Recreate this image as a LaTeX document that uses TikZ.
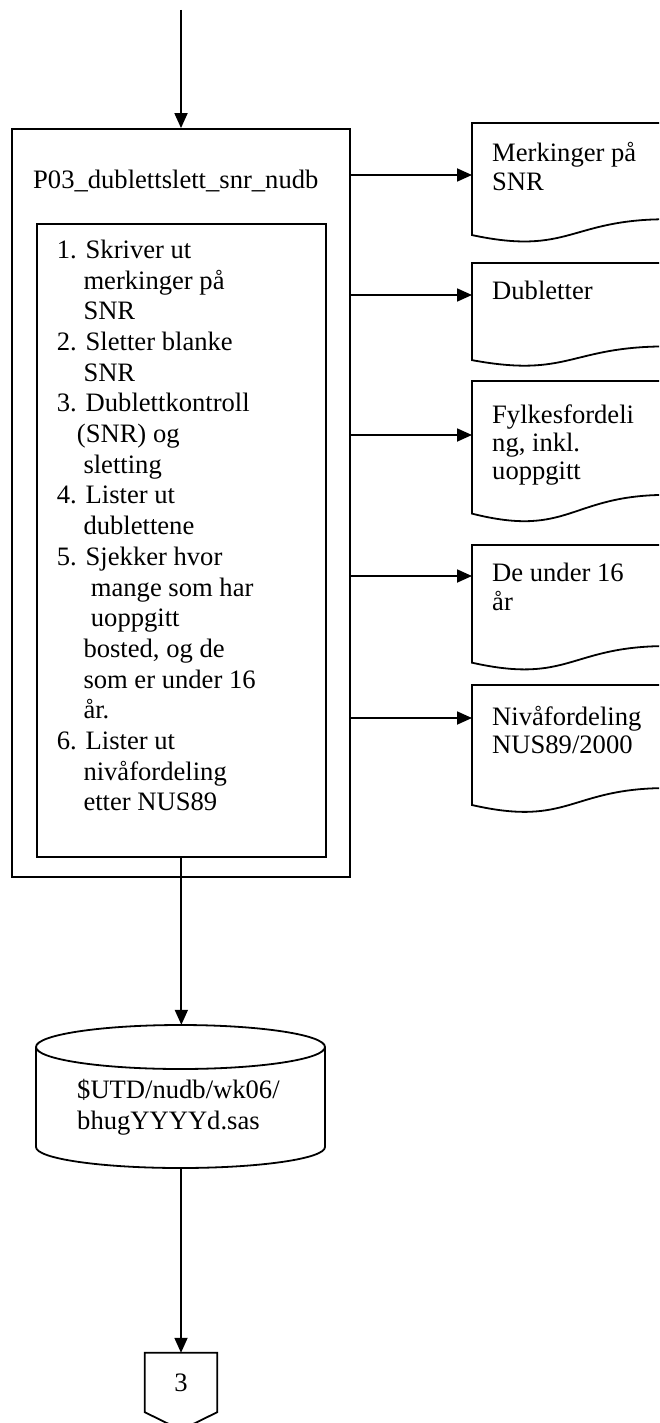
\documentclass[tikz,border=0pt]{standalone}
\usepackage{fontspec}
\setmainfont{Liberation Serif}
\usetikzlibrary{arrows.meta}
\newcommand{\docshape}[2]{%
  \draw[boxline] (472,#1) -- (667,#1) -- (667,{#1+0.802*#2})
    .. controls (569.5,{#1+0.802*#2}) and (569.5,{#1+1.1075*#2}) .. (472,{#1+0.934*#2}) -- cycle;}
\begin{document}
\begin{tikzpicture}[x=1pt,y=-1pt,
  font=\fontsize{26.6}{30.7}\selectfont,
  boxline/.style={line width=1.8pt, line join=miter},
  arr/.style={line width=1.8pt, -{Triangle[length=15pt,width=13pt]}},
  txt/.style={inner sep=0pt, anchor=base west},
  area/.style={rectangle, inner sep=0pt, draw=none}]
\useasboundingbox (0,0) rectangle (659,1423);
\clip (0,0) rectangle (659,1423);

% process boxes
\node[area, draw, line width=1.8pt, minimum width=338pt, minimum height=748pt] (proc) at (181,503) {};
\node[area, draw, line width=1.8pt, minimum width=289.3pt, minimum height=633pt] (steps) at (181.35,540.5) {};
\node[txt] (title) at (33,188.3) {P03\_dublettslett\_snr\_nudb};

\foreach \xx/\tt [count=\i] in {56.7/1. Skriver ut, 83.3/merkinger på, 83.3/SNR,
    56.7/2. Sletter blanke, 83.3/SNR, 56.7/3. Dublettkontroll, 76.7/(SNR) og,
    83.3/sletting, 56.7/4. Lister ut, 83.3/dublettene, 56.7/5. Sjekker hvor,
    90.7/mange som har, 90.7/uoppgitt, 83.3/{bosted, og de}, 83.3/som er under 16,
    83.3/år., 56.7/6. Lister ut, 83.3/nivåfordeling, 83.3/etter NUS89}
  \node[txt] (line\i) at (\xx,{258.3+(\i-1)*30.7}) {\tt};

% documents
\docshape{123}{120}
\docshape{263}{104}
\docshape{381}{142}
\docshape{545}{126}
\docshape{685}{128.5}

\node[txt] (d1a) at (492,162) {Merkinger på};
\node[txt] (d1b) at (492,190.3) {SNR};
\node[txt] (d2a) at (492,299.3) {Dubletter};
\node[txt] (d3a) at (492,423.3) {Fylkesfordeli};
\node[txt] (d3b) at (492,451.6) {ng, inkl.};
\node[txt] (d3c) at (492,479.9) {uoppgitt};
\node[txt] (d4a) at (492,581.7) {De under 16};
\node[txt] (d4b) at (492,610) {år};
\node[txt] (d5a) at (492,725) {Nivåfordeling};
\node[txt] (d5b) at (492,753.3) {NUS89/2000};

\coordinate (in1) at (472,175);
\coordinate (in2) at (472,295);
\coordinate (in3) at (472,435);
\coordinate (in4) at (472,576);
\coordinate (in5) at (472,718);
\foreach \k in {1,...,5}
  \draw[arr] (proc.east |- in\k) -- (in\k);

% top arrow
\coordinate (start) at (181,10);
\draw[arr] (start) -- (proc.north);

% database cylinder
\node[area, minimum width=289pt, minimum height=143pt] (db) at (180.5,1096.5) {};
\draw[boxline] (180.5,1047) ellipse [x radius=144.5pt, y radius=22pt];
\draw[boxline] (36,1047) -- (36,1147) arc[start angle=180, end angle=360, x radius=144.5pt, y radius=21pt] -- (325,1047);
\node[txt] (db1) at (77,1098.3) {\$UTD/nudb/wk06/};
\node[txt] (db2) at (77,1129.3) {bhugYYYYd.sas};

\draw[arr] (steps.south) -- (steps.south |- db.north);

% off-page connector
\node[area, minimum width=72pt, minimum height=59pt] (conn) at (181,1382.5) {3};
\draw[boxline] (conn.north west) -- (conn.north east) -- (conn.south east) -- (181,1430) -- (conn.south west) -- cycle;
\draw[arr] (db.south -| conn.north) -- (conn.north);
\end{tikzpicture}
\end{document}
